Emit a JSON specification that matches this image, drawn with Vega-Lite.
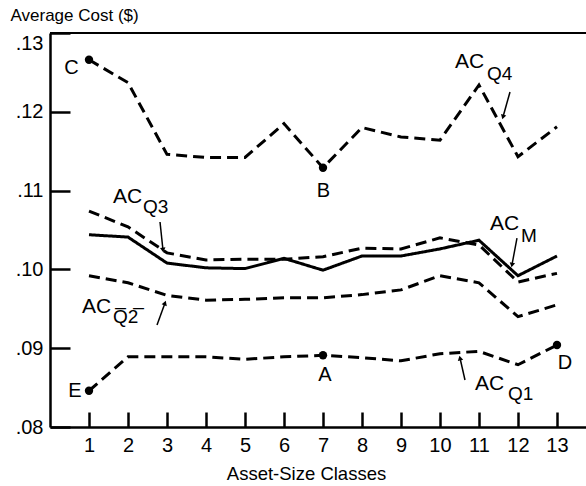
{
  "$schema": "https://vega.github.io/schema/vega-lite/v6.json",
  "width": 536,
  "height": 394,
  "autosize": {"type": "none"},
  "padding": {"left": 50, "top": 33, "right": 0, "bottom": 59},
  "background": "white",
  "config": {
    "view": {"stroke": null},
    "font": "Liberation Sans",
    "axis": {"labelFont": "Liberation Sans", "titleFont": "Liberation Sans", "labelColor": "black", "titleColor": "black", "domainColor": "black", "tickColor": "black", "grid": false}
  },
  "datasets": {
    "series": [
      {"class": 1, "series": "Q4", "cost": 0.1266}, {"class": 2, "series": "Q4", "cost": 0.1237}, {"class": 3, "series": "Q4", "cost": 0.1146}, {"class": 4, "series": "Q4", "cost": 0.1142}, {"class": 5, "series": "Q4", "cost": 0.1142}, {"class": 6, "series": "Q4", "cost": 0.1185}, {"class": 7, "series": "Q4", "cost": 0.1129}, {"class": 8, "series": "Q4", "cost": 0.1180}, {"class": 9, "series": "Q4", "cost": 0.1168}, {"class": 10, "series": "Q4", "cost": 0.1164}, {"class": 11, "series": "Q4", "cost": 0.1234}, {"class": 12, "series": "Q4", "cost": 0.1143}, {"class": 13, "series": "Q4", "cost": 0.1181},
      {"class": 1, "series": "M", "cost": 0.1044}, {"class": 2, "series": "M", "cost": 0.1041}, {"class": 3, "series": "M", "cost": 0.1008}, {"class": 4, "series": "M", "cost": 0.1002}, {"class": 5, "series": "M", "cost": 0.1001}, {"class": 6, "series": "M", "cost": 0.1014}, {"class": 7, "series": "M", "cost": 0.0999}, {"class": 8, "series": "M", "cost": 0.1017}, {"class": 9, "series": "M", "cost": 0.1017}, {"class": 10, "series": "M", "cost": 0.1026}, {"class": 11, "series": "M", "cost": 0.1037}, {"class": 12, "series": "M", "cost": 0.0992}, {"class": 13, "series": "M", "cost": 0.1017},
      {"class": 1, "series": "Q3", "cost": 0.1074}, {"class": 2, "series": "Q3", "cost": 0.1054}, {"class": 3, "series": "Q3", "cost": 0.1021}, {"class": 4, "series": "Q3", "cost": 0.1012}, {"class": 5, "series": "Q3", "cost": 0.1013}, {"class": 6, "series": "Q3", "cost": 0.1013}, {"class": 7, "series": "Q3", "cost": 0.1016}, {"class": 8, "series": "Q3", "cost": 0.1027}, {"class": 9, "series": "Q3", "cost": 0.1026}, {"class": 10, "series": "Q3", "cost": 0.1040}, {"class": 11, "series": "Q3", "cost": 0.1031}, {"class": 12, "series": "Q3", "cost": 0.0984}, {"class": 13, "series": "Q3", "cost": 0.0995},
      {"class": 1, "series": "Q2", "cost": 0.0992}, {"class": 2, "series": "Q2", "cost": 0.0983}, {"class": 3, "series": "Q2", "cost": 0.0967}, {"class": 4, "series": "Q2", "cost": 0.0961}, {"class": 5, "series": "Q2", "cost": 0.0962}, {"class": 6, "series": "Q2", "cost": 0.0964}, {"class": 7, "series": "Q2", "cost": 0.0964}, {"class": 8, "series": "Q2", "cost": 0.0968}, {"class": 9, "series": "Q2", "cost": 0.0974}, {"class": 10, "series": "Q2", "cost": 0.0992}, {"class": 11, "series": "Q2", "cost": 0.0983}, {"class": 12, "series": "Q2", "cost": 0.0940}, {"class": 13, "series": "Q2", "cost": 0.0955},
      {"class": 1, "series": "Q1", "cost": 0.0846}, {"class": 2, "series": "Q1", "cost": 0.0889}, {"class": 3, "series": "Q1", "cost": 0.0889}, {"class": 4, "series": "Q1", "cost": 0.0889}, {"class": 5, "series": "Q1", "cost": 0.0886}, {"class": 6, "series": "Q1", "cost": 0.0889}, {"class": 7, "series": "Q1", "cost": 0.0891}, {"class": 8, "series": "Q1", "cost": 0.0888}, {"class": 9, "series": "Q1", "cost": 0.0884}, {"class": 10, "series": "Q1", "cost": 0.0893}, {"class": 11, "series": "Q1", "cost": 0.0896}, {"class": 12, "series": "Q1", "cost": 0.0879}, {"class": 13, "series": "Q1", "cost": 0.0904}
    ],
    "marked": [
      {"class": 1, "cost": 0.1266, "letter": "C", "lx": 0.551, "ly": 0.12562},
      {"class": 7, "cost": 0.1129, "letter": "B", "lx": 7.013, "ly": 0.10989},
      {"class": 1, "cost": 0.0846, "letter": "E", "lx": 0.641, "ly": 0.08463},
      {"class": 7, "cost": 0.0891, "letter": "A", "lx": 7.051, "ly": 0.08660},
      {"class": 13, "cost": 0.0904, "letter": "D", "lx": 13.205, "ly": 0.08818}
    ],
    "names": [
      {"x": 10.385, "y": 0.12556, "sx": 11.206, "sy": 0.12404, "sub": "Q4"},
      {"x": 1.615, "y": 0.10843, "sx": 2.386, "sy": 0.10716, "sub": "Q3"},
      {"x": 11.282, "y": 0.10500, "sx": 12.078, "sy": 0.10348, "sub": "M"},
      {"x": 0.821, "y": 0.09447, "sx": 1.617, "sy": 0.09320, "sub": "Q̅2̅"},
      {"x": 10.897, "y": 0.08470, "sx": 11.745, "sy": 0.08343, "sub": "Q1"}
    ],
    "arrows": [
      {"x": 11.795, "y": 0.12251, "x2": 11.615, "y2": 0.11934},
      {"x": 2.821, "y": 0.10602, "x2": 2.897, "y2": 0.10246},
      {"x": 11.974, "y": 0.10398, "x2": 11.846, "y2": 0.10056},
      {"x": 2.744, "y": 0.09294, "x2": 2.949, "y2": 0.09574},
      {"x": 10.641, "y": 0.08596, "x2": 10.513, "y2": 0.08876}
    ]
  },
  "layer": [
    {
      "data": {"name": "series"},
      "mark": {"type": "line", "color": "black", "strokeWidth": 3, "clip": true},
      "encoding": {
        "x": {"field": "class", "type": "quantitative", "scale": {"domain": [0, 13.744], "nice": false},
          "axis": {"values": [1,2,3,4,5,6,7,8,9,10,11,12,13], "title": "Asset-Size Classes", "titleFontSize": 18.5, "titleFontWeight": "normal", "titleBaseline": "alphabetic", "titleY": 52, "titleX": 256, "labelFontSize": 20, "labelPadding": 23, "tickSize": -15, "tickWidth": 2.5, "domainWidth": 2.5, "labelFlush": false}},
        "y": {"field": "cost", "type": "quantitative", "scale": {"domain": [0.08, 0.13], "nice": false},
          "axis": {"values": [0.08, 0.09, 0.10, 0.11, 0.12, 0.13], "labelExpr": "substring(format(datum.value, '.2f'), 1)", "labelFontSize": 20, "labelPadding": 27, "tickSize": -20, "tickWidth": 2.5, "domainWidth": 2.5, "labelFlush": false,
            "labelBaseline": {"condition": {"test": "datum.value > 0.125", "value": "top"}, "value": "middle"},
            "title": "Average Cost ($)", "titleAngle": 0, "titleAlign": "left", "titleBaseline": "alphabetic", "titleX": -40, "titleY": -13, "titleFontSize": 17, "titleFontWeight": "normal"}},
        "detail": {"field": "series"},
        "strokeDash": {"field": "series", "type": "nominal", "scale": {"domain": ["Q4", "Q3", "M", "Q2", "Q1"], "range": [[11, 6], [11, 6], [1, 0], [11, 6], [11, 6]]}, "legend": null}
      }
    },
    {
      "data": {"values": [{}]},
      "mark": {"type": "rule", "color": "black", "strokeWidth": 2},
      "encoding": {"y": {"datum": 0.13}}
    },
    {
      "data": {"name": "marked"},
      "mark": {"type": "point", "filled": true, "color": "black", "size": 70, "opacity": 1},
      "encoding": {"x": {"field": "class", "type": "quantitative"}, "y": {"field": "cost", "type": "quantitative"}}
    },
    {
      "data": {"name": "marked"},
      "mark": {"type": "text", "fontSize": 20, "align": "center", "baseline": "middle", "color": "black"},
      "encoding": {"x": {"field": "lx", "type": "quantitative"}, "y": {"field": "ly", "type": "quantitative"}, "text": {"field": "letter"}}
    },
    {
      "data": {"name": "names"},
      "mark": {"type": "text", "fontSize": 21, "align": "left", "baseline": "alphabetic", "color": "black"},
      "encoding": {"x": {"field": "x", "type": "quantitative"}, "y": {"field": "y", "type": "quantitative"}, "text": {"value": "AC"}}
    },
    {
      "data": {"name": "names"},
      "mark": {"type": "text", "fontSize": 19, "align": "left", "baseline": "alphabetic", "color": "black"},
      "encoding": {"x": {"field": "sx", "type": "quantitative"}, "y": {"field": "sy", "type": "quantitative"}, "text": {"field": "sub"}}
    },
    {
      "data": {"name": "arrows"},
      "mark": {"type": "rule", "color": "black", "strokeWidth": 1.5},
      "encoding": {"x": {"field": "x", "type": "quantitative"}, "y": {"field": "y", "type": "quantitative"}, "x2": {"field": "x2"}, "y2": {"field": "y2"}}
    },
    {
      "data": {"name": "arrows"},
      "transform": [{"calculate": "atan2((datum.x2 - datum.x) * 39, (datum.y2 - datum.y) * 7880) * 180 / PI", "as": "ang"}],
      "mark": {"type": "point", "shape": "triangle-up", "filled": true, "color": "black", "size": 30, "opacity": 1},
      "encoding": {"x": {"field": "x2", "type": "quantitative"}, "y": {"field": "y2", "type": "quantitative"}, "angle": {"field": "ang", "type": "quantitative", "scale": null}}
    }
  ]
}
